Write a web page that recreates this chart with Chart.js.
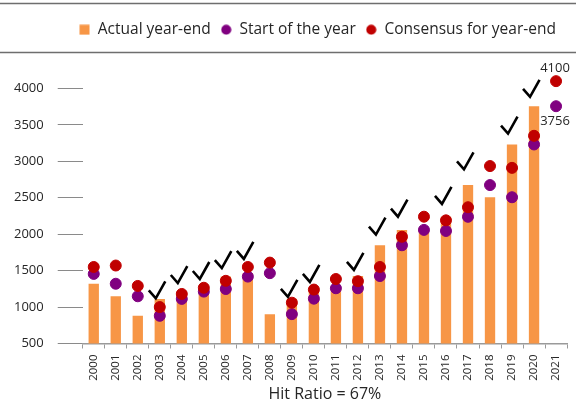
<!DOCTYPE html>
<html>
<head>
<meta charset="utf-8">
<script src="https://cdn.jsdelivr.net/npm/chart.js@4"></script>
<style>
  html, body { margin: 0; padding: 0; background: #fff; }
  #wrap { width: 576px; height: 400px; }
</style>
</head>
<body>
<div id="wrap"><canvas id="chart"></canvas></div>
<script>
// data
const years = ['2000','2001','2002','2003','2004','2005','2006','2007','2008','2009','2010',
               '2011','2012','2013','2014','2015','2016','2017','2018','2019','2020','2021'];
const actualYearEnd = [1320,1148,880,1112,1212,1248,1418,1468,903,1115,1258,
                       1258,1426,1848,2059,2044,2239,2674,2507,3231,3756,null];
const startOfYear = [1455,1320,1148,880,1112,1212,1248,1418,1465,903,1115,
                     1258,1258,1426,1848,2059,2044,2239,2674,2507,3231,3756];
const consensus = [1550,1570,1290,1000,1180,1265,1360,1550,1610,1060,1240,
                   1385,1355,1550,1965,2240,2190,2370,2935,2910,3350,4100];
// value where the tick mark sits (null = consensus missed)
const hitMarks = [null,null,null,1120,1330,1385,1535,1660,null,1140,1345,
                  null,1510,1995,2240,null,2415,2890,null,3380,3885,null];
const yTicks = [500,1000,1500,2000,2500,3000,3500,4000];
const hitRatio = 'Hit Ratio = 67%';

const FONT = '"Open Sans", "Noto Sans", sans-serif';
const ORANGE = '#F79646', PURPLE = '#800080', RED = '#C00000';

// small legend markers
function marker(color, round) {
    const c = document.createElement('canvas');
    c.width = 11; c.height = 11;
    const g = c.getContext('2d');
    g.fillStyle = color;
    if (round) {
        g.beginPath();
        g.arc(5.5, 5.5, 5, 0, Math.PI * 2);
        g.fill();
    } else {
        g.fillRect(0.5, 0.5, 10, 10);
    }
    return c;
}
const markers = [marker(ORANGE, false), marker(PURPLE, true), marker(RED, true)];

// grey rules above and below the legend
const framePlugin = {
    id: 'frame',
    afterDraw(chart) {
        const ctx = chart.ctx;
        ctx.save();
        ctx.strokeStyle = '#6e6e6e';
        ctx.lineWidth = 1.5;
        [3.5, 52.5].forEach(y => {
            ctx.beginPath();
            ctx.moveTo(0, y);
            ctx.lineTo(chart.width, y);
            ctx.stroke();
        });
        ctx.restore();
    }
};

// check marks for the years where the consensus was hit
const checkPlugin = {
    id: 'checks',
    afterDatasetsDraw(chart) {
        const ctx = chart.ctx;
        const xs = chart.scales.x, ys = chart.scales.y;
        ctx.save();
        ctx.strokeStyle = '#000';
        ctx.lineWidth = 2.6;
        ctx.lineJoin = 'miter';
        hitMarks.forEach((v, i) => {
            if (v === null) return;
            const x = xs.getPixelForValue(i) - 4;
            const y = ys.getPixelForValue(v);
            ctx.beginPath();
            ctx.moveTo(x - 7, y - 8);
            ctx.lineTo(x, y);
            ctx.lineTo(x + 9.5, y - 17);
            ctx.stroke();
        });
        ctx.restore();
    }
};

// value labels for the last year
const lastLabelPlugin = {
    id: 'lastLabels',
    afterDatasetsDraw(chart) {
        const ctx = chart.ctx;
        const i = years.length - 1;
        const red = chart.getDatasetMeta(2).data[i];
        const purple = chart.getDatasetMeta(1).data[i];
        ctx.save();
        ctx.fillStyle = '#262626';
        ctx.font = '13px ' + FONT;
        ctx.textAlign = 'center';
        ctx.textBaseline = 'bottom';
        ctx.fillText(String(consensus[i]), red.x - 1, red.y - 6);
        ctx.textBaseline = 'top';
        ctx.fillText(String(startOfYear[i]), purple.x - 1, purple.y + 9);
        ctx.restore();
    }
};

// fixed legend height, legend moved a bit to the right like the original
const legendPlugin = {
    id: 'legendTweak',
    afterInit(chart) {
        const lg = chart.legend;
        const fit = lg.fit;
        lg.fit = function () {
            fit.call(this);
            this.height = 40;
        };
        const draw = lg.draw;
        lg.draw = function () {
            const c = this.ctx;
            c.save();
            c.translate(31, 0);
            draw.call(this);
            c.restore();
        };
    }
};

const ctx = document.getElementById('chart').getContext('2d');
const chart = new Chart(ctx, {
    type: 'bar',
    data: {
        labels: years,
        datasets: [
            {
                label: 'Actual year-end',
                data: actualYearEnd,
                backgroundColor: ORANGE,
                barPercentage: 0.47,
                categoryPercentage: 1,
                order: 2
            },
            {
                type: 'line',
                label: 'Start of the year',
                data: startOfYear,
                showLine: false,
                pointRadius: 5.5,
                pointHoverRadius: 5.5,
                pointBackgroundColor: PURPLE,
                pointBorderColor: PURPLE,
                backgroundColor: PURPLE,
                borderColor: PURPLE,
                order: 1
            },
            {
                type: 'line',
                label: 'Consensus for year-end',
                data: consensus,
                showLine: false,
                pointRadius: 5.5,
                pointHoverRadius: 5.5,
                pointBackgroundColor: RED,
                pointBorderColor: RED,
                backgroundColor: RED,
                borderColor: RED,
                order: 0
            }
        ]
    },
    options: {
        responsive: true,
        maintainAspectRatio: false,
        animation: false,
        layout: { padding: { top: 12, left: 0, right: 3, bottom: -2.8 } },
        plugins: {
            tooltip: { enabled: false },
            legend: {
                position: 'top',
                labels: {
                    usePointStyle: true,
                    boxWidth: 11,
                    boxHeight: 11,
                    padding: 10,
                    color: '#262626',
                    font: { family: FONT, size: 15.5 },
                    sort: (a, b) => a.datasetIndex - b.datasetIndex,
                    generateLabels(chart) {
                        const items = Chart.defaults.plugins.legend.labels.generateLabels(chart);
                        items.forEach(it => { it.pointStyle = markers[it.datasetIndex]; });
                        return items;
                    }
                }
            }
        },
        scales: {
            x: {
                offset: true,
                grid: {
                    offset: true,
                    drawOnChartArea: false,
                    drawTicks: true,
                    tickLength: 5,
                    color: '#9a9a9a'
                },
                border: { color: '#9a9a9a', width: 1.5 },
                ticks: {
                    maxRotation: 90,
                    minRotation: 90,
                    padding: 6,
                    color: '#262626',
                    font: { family: FONT, size: 11.5 }
                },
                title: {
                    display: true,
                    text: hitRatio,
                    color: '#262626',
                    padding: { top: 0, bottom: 0 },
                    font: { family: FONT, size: 16, lineHeight: 1 }
                }
            },
            y: {
                min: 500,
                max: 4500,
                afterBuildTicks(scale) {
                    scale.ticks = yTicks.map(v => ({ value: v }));
                },
                grid: {
                    drawOnChartArea: false,
                    drawTicks: true,
                    tickLength: 25,
                    color: '#8a8a8a'
                },
                border: { display: false },
                ticks: {
                    padding: 14,
                    color: '#262626',
                    font: { family: FONT, size: 13 },
                    callback: v => String(v)
                }
            }
        }
    },
    plugins: [framePlugin, checkPlugin, lastLabelPlugin, legendPlugin]
});
</script>
</body>
</html>
